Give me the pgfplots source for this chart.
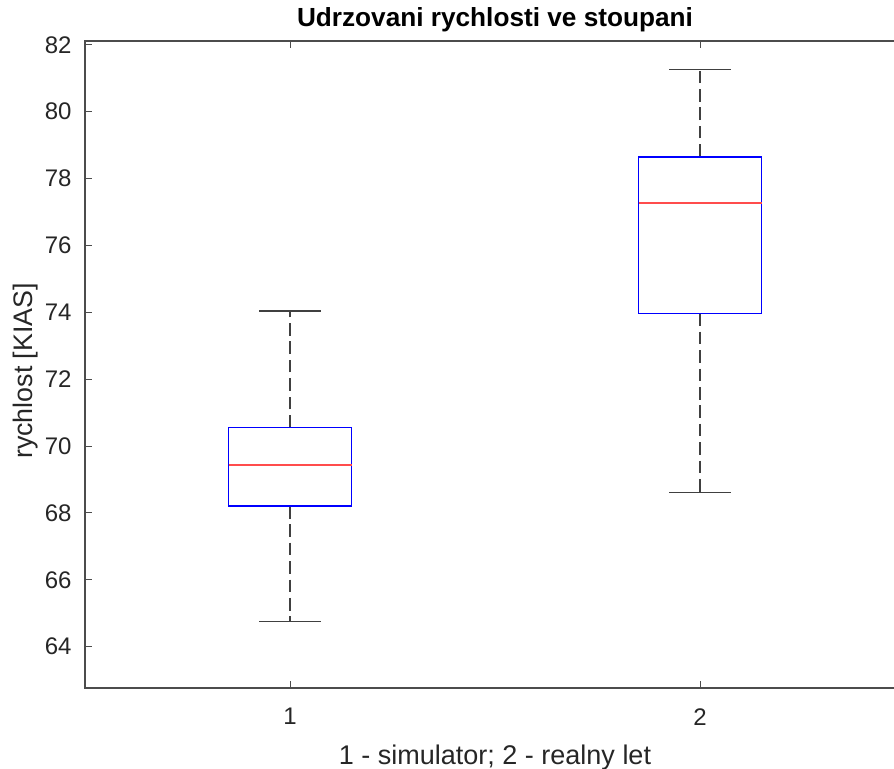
\documentclass[border=0pt]{standalone}
\usepackage{fontspec}
\setmainfont{Liberation Sans}
\usepackage{pgfplots}
\pgfplotsset{compat=1.18}

\definecolor{axgray}{rgb}{0.15,0.15,0.15}
\definecolor{boxblue}{rgb}{0,0,1}
\definecolor{medred}{rgb}{1,0.3,0.3}

\tikzset{
  boxline/.style={draw=boxblue, line width=0.7pt},
  medline/.style={draw=medred, line width=0.7pt},
  whisk/.style={draw=black!75, line width=0.6pt},
  whiskstem/.style={whisk, dash pattern=on 6.3pt off 2.9pt},
}

\begin{document}
\begin{tikzpicture}
\begin{axis}[
  at={(0,0)}, anchor=south west,
  scale only axis,
  width=410pt, height=323.5pt,
  xmin=0.5, xmax=2.5,
  ymin=62.765, ymax=82.114,
  xtick={1,2},
  ytick={64,66,...,82},
  tick align=inside,
  major tick length=3.5pt,
  axis line style={draw=black!70, line width=0.6pt},
  every tick/.style={draw=black!70, line width=0.5pt},
  /pgf/number format/assume math mode=true,
  tick label style={font=\fontsize{12}{14}\selectfont, text=axgray},
  xticklabel style={anchor=north, inner sep=0pt, yshift=-10pt},
  yticklabel style={anchor=east, inner sep=0pt, xshift=-6.5pt},
  title={Udrzovani rychlosti ve stoupani},
  every axis title/.style={at={(axis description cs:0.5,1.0221)}, anchor=base,
    inner sep=0pt, font=\bfseries\fontsize{13.1}{16}\selectfont, text=black},
  xlabel={1 - simulator; 2 - realny let},
  xlabel style={at={(axis description cs:0.5,0)}, anchor=base, yshift=-38.5pt,
    inner sep=0pt, font=\fontsize{13.5}{16}\selectfont, text=axgray},
  every axis y label/.style={at={(axis description cs:-0.0643,0.49)},
    rotate=90, anchor=base, inner sep=0pt,
    font=\fontsize{13.4}{16}\selectfont, text=axgray},
  ylabel={rychlost [KIAS]},
]
% 1 - simulator: whiskers 64.75 / 74.04, quartiles 68.21 / 70.55, median 69.43
\addplot[whiskstem] coordinates {(1,70.55) (1,74.04)};
\addplot[whiskstem] coordinates {(1,68.21) (1,64.75)};
\addplot[whisk] coordinates {(0.925,74.04) (1.075,74.04)};
\addplot[whisk] coordinates {(0.925,64.75) (1.075,64.75)};
\addplot[boxline] coordinates {(0.85,68.21) (1.15,68.21) (1.15,70.55) (0.85,70.55) (0.85,68.21)} -- cycle;
\addplot[medline] coordinates {(0.85,69.43) (1.15,69.43)};

% 2 - realny let: whiskers 68.62 / 81.27, quartiles 73.97 / 78.65, median 77.27
\addplot[whiskstem] coordinates {(2,78.65) (2,81.27)};
\addplot[whiskstem] coordinates {(2,73.97) (2,68.62)};
\addplot[whisk] coordinates {(1.925,81.27) (2.075,81.27)};
\addplot[whisk] coordinates {(1.925,68.62) (2.075,68.62)};
\addplot[boxline] coordinates {(1.85,73.97) (2.15,73.97) (2.15,78.65) (1.85,78.65) (1.85,73.97)} -- cycle;
\addplot[medline] coordinates {(1.85,77.27) (2.15,77.27)};
\end{axis}
\pgfresetboundingbox
\path[use as bounding box] (-42.5pt,-40.5pt) rectangle (404.5pt,344pt);
\end{tikzpicture}
\end{document}
